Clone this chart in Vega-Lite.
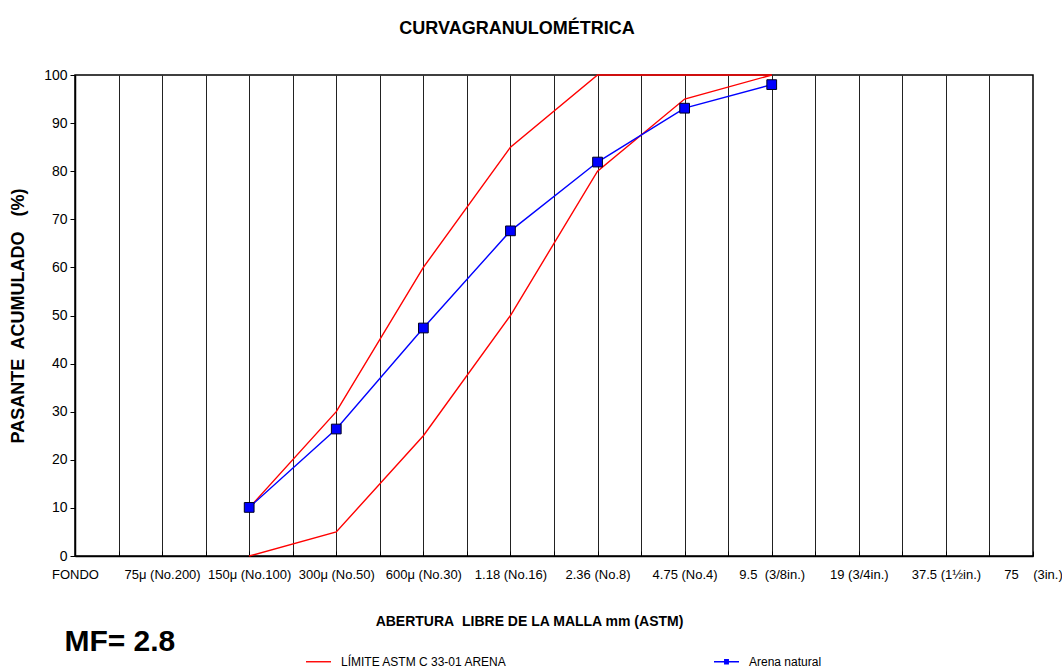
{
  "$schema": "https://vega.github.io/schema/vega-lite/v6.json",
  "width": 958,
  "height": 481,
  "autosize": "none",
  "padding": {"left": 75, "top": 75, "right": 29, "bottom": 115},
  "background": "white",
  "config": {
    "font": "Liberation Sans",
    "view": {"stroke": "#000", "strokeWidth": 1.5}
  },
  "title": {
    "text": "CURVAGRANULOMÉTRICA",
    "fontSize": 18,
    "fontWeight": "bold",
    "font": "Liberation Sans",
    "anchor": "middle",
    "baseline": "bottom",
    "offset": 12,
    "dx": -37,
    "color": "#000"
  },
  "datasets": {
    "curvas": [
      {"malla": 4, "tamiz": "150μ (No.100)", "pasante": 10, "curva": "sup", "serie": "LÍMITE ASTM C 33-01 ARENA"},
      {"malla": 6, "tamiz": "300μ (No.50)", "pasante": 30, "curva": "sup", "serie": "LÍMITE ASTM C 33-01 ARENA"},
      {"malla": 8, "tamiz": "600μ (No.30)", "pasante": 60, "curva": "sup", "serie": "LÍMITE ASTM C 33-01 ARENA"},
      {"malla": 10, "tamiz": "1.18 (No.16)", "pasante": 85, "curva": "sup", "serie": "LÍMITE ASTM C 33-01 ARENA"},
      {"malla": 12, "tamiz": "2.36 (No.8)", "pasante": 100, "curva": "sup", "serie": "LÍMITE ASTM C 33-01 ARENA"},
      {"malla": 14, "tamiz": "4.75 (No.4)", "pasante": 100, "curva": "sup", "serie": "LÍMITE ASTM C 33-01 ARENA"},
      {"malla": 16, "tamiz": "9.5 (3/8in.)", "pasante": 100, "curva": "sup", "serie": "LÍMITE ASTM C 33-01 ARENA"},
      {"malla": 4, "tamiz": "150μ (No.100)", "pasante": 0, "curva": "inf", "serie": "LÍMITE ASTM C 33-01 ARENA"},
      {"malla": 6, "tamiz": "300μ (No.50)", "pasante": 5, "curva": "inf", "serie": "LÍMITE ASTM C 33-01 ARENA"},
      {"malla": 8, "tamiz": "600μ (No.30)", "pasante": 25, "curva": "inf", "serie": "LÍMITE ASTM C 33-01 ARENA"},
      {"malla": 10, "tamiz": "1.18 (No.16)", "pasante": 50, "curva": "inf", "serie": "LÍMITE ASTM C 33-01 ARENA"},
      {"malla": 12, "tamiz": "2.36 (No.8)", "pasante": 80, "curva": "inf", "serie": "LÍMITE ASTM C 33-01 ARENA"},
      {"malla": 14, "tamiz": "4.75 (No.4)", "pasante": 95, "curva": "inf", "serie": "LÍMITE ASTM C 33-01 ARENA"},
      {"malla": 16, "tamiz": "9.5 (3/8in.)", "pasante": 100, "curva": "inf", "serie": "LÍMITE ASTM C 33-01 ARENA"},
      {"malla": 4, "tamiz": "150μ (No.100)", "pasante": 10.1, "curva": "arena", "serie": "Arena natural"},
      {"malla": 6, "tamiz": "300μ (No.50)", "pasante": 26.4, "curva": "arena", "serie": "Arena natural"},
      {"malla": 8, "tamiz": "600μ (No.30)", "pasante": 47.4, "curva": "arena", "serie": "Arena natural"},
      {"malla": 10, "tamiz": "1.18 (No.16)", "pasante": 67.6, "curva": "arena", "serie": "Arena natural"},
      {"malla": 12, "tamiz": "2.36 (No.8)", "pasante": 81.9, "curva": "arena", "serie": "Arena natural"},
      {"malla": 14, "tamiz": "4.75 (No.4)", "pasante": 93.1, "curva": "arena", "serie": "Arena natural"},
      {"malla": 16, "tamiz": "9.5 (3/8in.)", "pasante": 98.0, "curva": "arena", "serie": "Arena natural"}
    ],
    "nota": [{"texto": "MF= 2.8"}]
  },
  "layer": [
    {
      "data": {"name": "curvas"},
      "mark": {"type": "line", "strokeWidth": 1.4, "clip": false},
      "encoding": {
        "x": {
          "field": "malla",
          "type": "quantitative",
          "scale": {"domain": [0, 22], "nice": false, "zero": false},
          "axis": {
            "title": "ABERTURA\u00a0 LIBRE DE LA MALLA mm (ASTM)",
            "titleFontSize": 14,
            "titleFontWeight": "bold",
            "titleColor": "#000",
            "titleX": 454,
            "titleY": 58,
            "values": [0, 0.5, 1, 1.5, 2, 2.5, 3, 3.5, 4, 4.5, 5, 5.5, 6, 6.5, 7, 7.5, 8, 8.5, 9, 9.5, 10, 10.5, 11, 11.5, 12, 12.5, 13, 13.5, 14, 14.5, 15, 15.5, 16, 16.5, 17, 17.5, 18, 18.5, 19, 19.5, 20, 20.5, 21, 21.5, 22],
            "labelExpr": "datum.value % 2 === 0 ? ['FONDO','75μ (No.200)','150μ (No.100)','300μ (No.50)','600μ (No.30)','1.18 (No.16)','2.36 (No.8)','4.75 (No.4)','9.5\u00a0 (3/8in.)','19 (3/4in.)','37.5 (1½in.)','75\u00a0\u00a0\u00a0 (3in.)'][datum.value / 2] : ''",
            "labelFontSize": 13,
            "labelColor": "#000",
            "labelOverlap": false,
            "labelFlush": false,
            "labelBound": false,
            "labelPadding": 17,
            "tickSize": -5,
            "tickColor": "#000",
            "domainColor": "#000",
            "domainWidth": 1.5,
            "grid": true,
            "gridColor": "#222",
            "gridWidth": 1,
            "gridOpacity": {"condition": {"test": "datum.value % 1 !== 0 || datum.value === 0 || datum.value === 22", "value": 0}, "value": 1}
          }
        },
        "y": {
          "field": "pasante",
          "type": "quantitative",
          "scale": {"domain": [0, 100], "nice": false},
          "axis": {
            "title": "PASANTE\u00a0 ACUMULADO\u00a0\u00a0 (%)",
            "titleFontSize": 18,
            "titleFontWeight": "bold",
            "titleColor": "#000",
            "titlePadding": 16,
            "values": [0, 10, 20, 30, 40, 50, 60, 70, 80, 90, 100],
            "labelFontSize": 14,
            "labelColor": "#000",
            "labelPadding": 3,
            "tickSize": 5,
            "tickColor": "#000",
            "domainColor": "#000",
            "domainWidth": 1.5,
            "grid": false
          }
        },
        "detail": {"field": "curva"},
        "color": {
          "field": "serie",
          "type": "nominal",
          "scale": {"domain": ["LÍMITE ASTM C 33-01 ARENA", "Arena natural"], "range": ["#ff0000", "#0000ff"]},
          "legend": {
            "orient": "none",
            "legendX": 230,
            "legendY": 573,
            "direction": "horizontal",
            "title": null,
            "columnPadding": 203,
            "symbolSize": 625,
            "symbolStrokeWidth": 1.4,
            "labelFontSize": 12,
            "labelColor": "#000",
            "labelOffset": 9,
            "labelLimit": 400,
            "encode": {
              "symbols": {
                "update": {
                  "shape": {"signal": "datum.value === 'Arena natural' ? 'M-1,0H1M-0.14,-0.17H0.14V0.17H-0.14Z' : 'M-1,0H1'"},
                  "fill": {"signal": "datum.value === 'Arena natural' ? '#0000ff' : 'transparent'"}
                }
              }
            }
          }
        }
      }
    },
    {
      "data": {"name": "curvas"},
      "transform": [{"filter": "datum.curva === 'arena'"}],
      "mark": {"type": "point", "shape": "square", "filled": true, "size": 95, "fill": "#0000ff", "stroke": "#000022", "strokeWidth": 1, "opacity": 1, "clip": false},
      "encoding": {
        "x": {"field": "malla", "type": "quantitative"},
        "y": {"field": "pasante", "type": "quantitative"}
      }
    },
    {
      "data": {"name": "nota"},
      "mark": {"type": "text", "fontSize": 30, "fontWeight": "bold", "font": "Liberation Sans", "color": "#000", "align": "center", "baseline": "middle", "clip": false},
      "encoding": {
        "x": {"datum": 1.03, "type": "quantitative"},
        "y": {"datum": -17.9, "type": "quantitative"},
        "text": {"field": "texto", "type": "nominal"}
      }
    }
  ]
}
